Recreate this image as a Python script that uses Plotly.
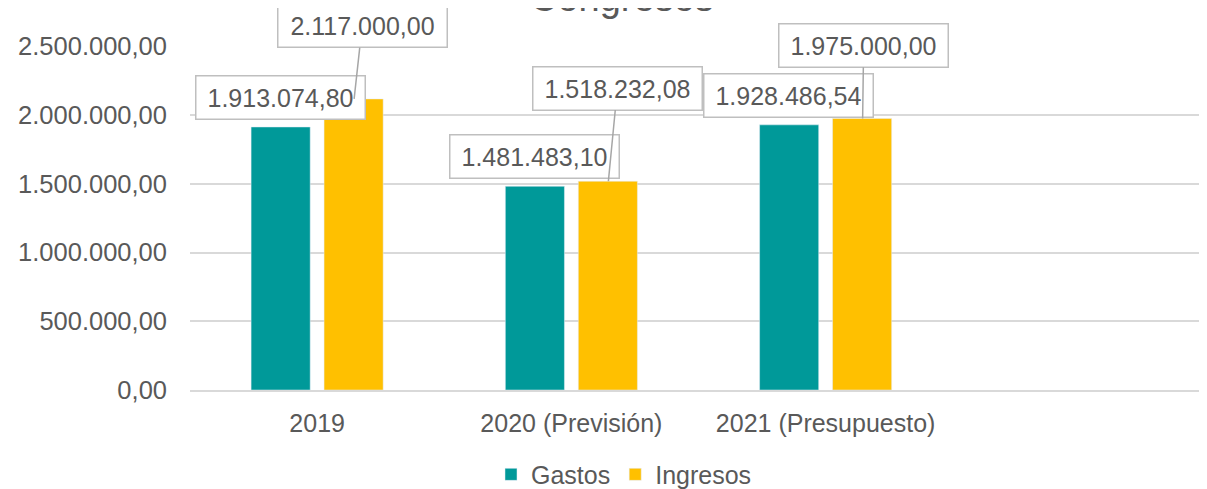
import plotly.graph_objects as go

# Data
categories = ["2019", "2020 (Previsión)", "2021 (Presupuesto)"]
gastos = [1913074.80, 1481483.10, 1928486.54]
ingresos = [2117000.00, 1518232.08, 1975000.00]
y_ticks = [0, 500000, 1000000, 1500000, 2000000, 2500000]

TEXT_GREY = "#595959"
GRID_GREY = "#d9d9d9"
FONT = "Liberation Sans, Arial, sans-serif"


def fmt_es(val):
    """Format number with Spanish separators: 1.913.074,80"""
    return f"{val:,.2f}".replace(",", "X").replace(".", ",").replace("X", ".")


fig = go.Figure()

fig.add_trace(go.Bar(
    name="Gastos",
    x=categories,
    y=gastos,
    marker_color="#009999",
    hoverinfo="skip",
))

fig.add_trace(go.Bar(
    name="Ingresos",
    x=categories,
    y=ingresos,
    marker_color="#FFC000",
    hoverinfo="skip",
))

# Callout labels - Gastos first, Ingresos on top with leader lines
# (x given as category index so "2019" is not read as a number)
label_offsets = [(8, -73), (9, -93), (1, -73)]
annotations = []
for i, val in enumerate(gastos):
    annotations.append(dict(
        x=i, y=val, xref="x", yref="y",
        text=fmt_es(val), showarrow=False,
        xshift=-37, yshift=7, yanchor="bottom",
        font=dict(size=25, color=TEXT_GREY, family=FONT),
        bgcolor="white", bordercolor="#bfbfbf", borderwidth=1.5,
        borderpad=7, width=154,
    ))
for i, (val, (ax, ay)) in enumerate(zip(ingresos, label_offsets)):
    annotations.append(dict(
        x=i, y=val, xref="x", yref="y",
        text=fmt_es(val), showarrow=True,
        ax=ax, ay=ay, xshift=37,
        arrowhead=0, arrowwidth=1.5, arrowcolor="#a6a6a6", standoff=0,
        font=dict(size=25, color=TEXT_GREY, family=FONT),
        bgcolor="white", bordercolor="#bfbfbf", borderwidth=1.5,
        borderpad=7, width=154,
    ))

# Title, cut off at the top like the source
annotations.append(dict(
    text="Congresos", xref="paper", yref="paper",
    x=(622 - 190) / 1017, y=1, yanchor="middle", yshift=48,
    showarrow=False,
    font=dict(size=38, color=TEXT_GREY, family=FONT),
))

fig.update_layout(
    width=1207,
    height=489,
    # page body adds an 8px offset, margins compensate for it
    margin=dict(l=182, r=8, t=38, b=107, autoexpand=False),
    paper_bgcolor="white",
    plot_bgcolor="white",
    separators=",.",
    barmode="group",
    bargap=0.426,
    bargroupgap=0.19,
    font=dict(family=FONT, size=25, color=TEXT_GREY),
    showlegend=True,
    legend=dict(
        orientation="h",
        x=(624 - 190) / 1017, xanchor="center",
        y=-0.246, yanchor="middle",
        font=dict(size=25, color=TEXT_GREY),
        itemwidth=30,
        bgcolor="rgba(0,0,0,0)",
    ),
    annotations=annotations,
)

fig.update_xaxes(
    type="category",
    categoryorder="array",
    categoryarray=categories + [" "],
    range=[-0.5, 3.5],
    showgrid=False,
    showline=True,
    linecolor=GRID_GREY,
    linewidth=1.5,
    ticks="",
    ticklabelstandoff=10,
    tickfont=dict(size=25, color=TEXT_GREY),
)

fig.update_yaxes(
    range=[0, 2502000],
    tickvals=y_ticks,
    tickformat=",.2f",
    showgrid=True,
    gridcolor=GRID_GREY,
    gridwidth=1.5,
    zeroline=False,
    showline=False,
    ticks="",
    ticklabelstandoff=22,
    tickfont=dict(size=25.5, color=TEXT_GREY),
)

fig.write_html("out.html")
